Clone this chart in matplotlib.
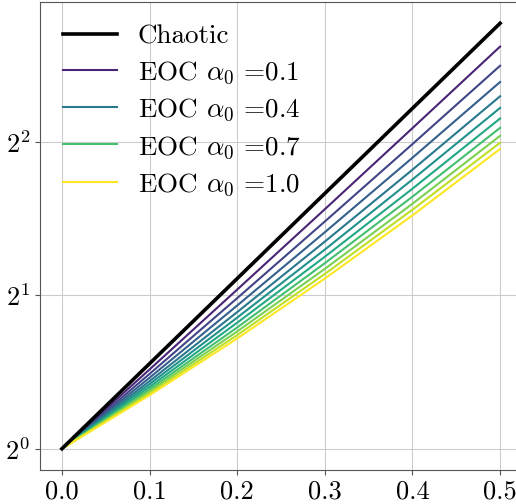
import numpy as np
import matplotlib
matplotlib.use('Agg')
from matplotlib import pyplot as plt
from matplotlib.ticker import LogLocator, LogFormatterMathtext, MultipleLocator

plt.rcParams['font.family'] = 'serif'
plt.rcParams['font.serif'] = ['cmr10']
plt.rcParams['mathtext.fontset'] = 'cm'
plt.rcParams['axes.formatter.use_mathtext'] = True

# x positions where curves were read
x = [0.0, 0.1, 0.2, 0.3, 0.4, 0.5]

# log2 of y
chaotic_log2 = [0.0, 0.555, 1.110, 1.665, 2.220, 2.775]

alphas = [0.1, 0.2, 0.3, 0.4, 0.5, 0.6, 0.7, 0.8, 0.9, 1.0]
eoc_log2 = [
    [0.0, 0.517, 1.038, 1.562, 2.091, 2.623],
    [0.0, 0.488, 0.982, 1.482, 1.987, 2.498],
    [0.0, 0.463, 0.934, 1.412, 1.898, 2.392],
    [0.0, 0.441, 0.891, 1.351, 1.820, 2.299],
    [0.0, 0.422, 0.855, 1.299, 1.756, 2.223],
    [0.0, 0.404, 0.822, 1.252, 1.696, 2.154],
    [0.0, 0.388, 0.791, 1.210, 1.644, 2.093],
    [0.0, 0.374, 0.765, 1.173, 1.598, 2.041],
    [0.0, 0.361, 0.741, 1.140, 1.559, 1.996],
    [0.0, 0.349, 0.719, 1.110, 1.522, 1.955],
]
legend_alphas = [0.1, 0.4, 0.7, 1.0]


def main():
    fig = plt.figure(figsize=(5.16, 5.04), dpi=100)
    ax = fig.add_axes([40 / 516, 34 / 504, 482 / 516, 468 / 504])

    ax.plot(x, np.power(2.0, chaotic_log2), color='black', lw=2.6, label='Chaotic', zorder=5)
    cmap = plt.get_cmap('viridis')
    for a, vals in zip(alphas, eoc_log2):
        lab = r'EOC $\alpha_0$ =%.1f' % a if a in legend_alphas else '_nolegend_'
        ax.plot(x, np.power(2.0, vals), color=cmap(a), lw=1.5, label=lab)

    ax.set_yscale('log', base=2)
    ax.yaxis.set_major_locator(LogLocator(base=2))
    ax.yaxis.set_major_formatter(LogFormatterMathtext(base=2))
    ax.yaxis.set_minor_locator(plt.NullLocator())
    ax.xaxis.set_major_locator(MultipleLocator(0.1))
    ax.xaxis.set_major_formatter(plt.FuncFormatter(lambda v, p: '%.1f' % v))

    ax.grid(True, color='#cccccc', lw=0.8)
    ax.set_axisbelow(True)
    for s in ax.spines.values():
        s.set_color('#555555')
    ax.tick_params(labelsize=19, colors='#555555', labelcolor='black', length=3.5)

    ax.legend(loc='upper left', frameon=False, fontsize=19.5, handlelength=2.0,
              labelspacing=0.38, borderaxespad=0.45, handletextpad=0.75)

    fig.savefig('out.png', dpi=100)


if __name__ == '__main__':
    main()
